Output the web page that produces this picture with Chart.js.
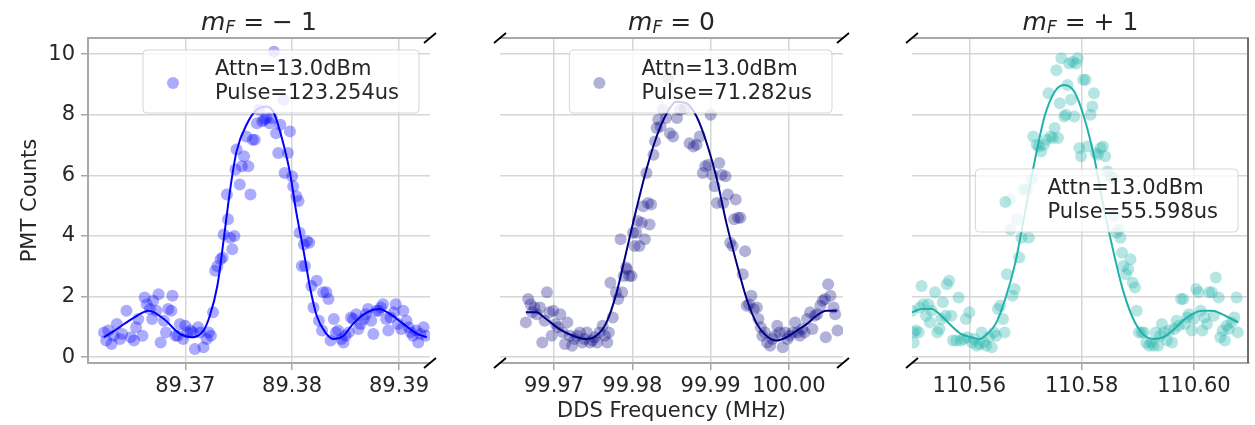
<!DOCTYPE html>
<html>
<head>
<meta charset="utf-8">
<script src="https://cdn.jsdelivr.net/npm/chart.js@4.4.0/dist/chart.umd.min.js"></script>
<style>
    html, body { margin: 0; padding: 0; background: #fff; }
    #wrap { position: relative; width: 1255px; height: 425px; overflow: hidden; }
    .panel { position: absolute; top: 0; height: 425px; }
</style>
</head>
<body>
<div id="wrap">
    <div class="panel" style="left:0;width:440px"><canvas id="chartMinus" width="440" height="425"></canvas></div>
    <div class="panel" style="left:440px;width:420px"><canvas id="chartZero" width="420" height="425"></canvas></div>
    <div class="panel" style="left:860px;width:395px"><canvas id="chartPlus" width="395" height="425"></canvas></div>
</div>
<script>
// ---- data ----
const yTicks = [0, 2, 4, 6, 8, 10];
const stateLabels = ['= \u2212 1', '= 0', '= + 1'];
const attnText = 'Attn=13.0dBm';
const pulseTexts = ['Pulse=123.254us', 'Pulse=71.282us', 'Pulse=55.598us'];

// m_F = -1
const xTicksMinus = ['89.37', '89.38', '89.39'];
const freqMinus = [89.3624, 89.3626, 89.3628, 89.3631, 89.3633, 89.3636, 89.3639, 89.3641, 89.3645, 89.3649,
    89.3652, 89.3654, 89.3656, 89.3660, 89.3662, 89.3664, 89.3667, 89.3669, 89.3670, 89.3673,
    89.3675, 89.3677, 89.3680, 89.3682, 89.3684, 89.3687, 89.3688, 89.3691, 89.3693, 89.3695,
    89.3698, 89.3700, 89.3702, 89.3705, 89.3707, 89.3709, 89.3712, 89.3714, 89.3717, 89.3720,
    89.3722, 89.3724, 89.3726, 89.3728, 89.3730, 89.3733, 89.3735, 89.3736, 89.3739, 89.3740,
    89.3742, 89.3744, 89.3746, 89.3747, 89.3748, 89.3751, 89.3753, 89.3755, 89.3757, 89.3759,
    89.3761, 89.3763, 89.3765, 89.3767, 89.3769, 89.3772, 89.3774, 89.3776, 89.3779, 89.3781,
    89.3783, 89.3785, 89.3787, 89.3789, 89.3792, 89.3793, 89.3796, 89.3798, 89.3800, 89.3801,
    89.3804, 89.3806, 89.3807, 89.3809, 89.3811, 89.3812, 89.3814, 89.3816, 89.3818, 89.3820,
    89.3823, 89.3825, 89.3828, 89.3829, 89.3832, 89.3834, 89.3836, 89.3839, 89.3841, 89.3843,
    89.3846, 89.3848, 89.3850, 89.3853, 89.3855, 89.3857, 89.3860, 89.3862, 89.3864, 89.3867,
    89.3869, 89.3871, 89.3874, 89.3876, 89.3879, 89.3881, 89.3883, 89.3885, 89.3888, 89.3890,
    89.3892, 89.3895, 89.3897, 89.3899, 89.3902, 89.3904, 89.3907, 89.3909, 89.3911, 89.3913,
    89.3916, 89.3918, 89.3920, 89.3923, 89.3925];
const countsMinus = [0.82, 0.55, 0.88, 0.44, 0.71, 1.10, 0.60, 0.77, 1.53, 0.66,
    0.55, 0.99, 1.26, 0.71, 1.97, 1.75, 1.59, 1.26, 1.86, 1.53,
    2.08, 0.49, 1.20, 0.82, 1.59, 1.53, 2.03, 0.71, 0.71, 1.10,
    0.60, 1.04, 0.82, 0.88, 0.82, 0.27, 0.99, 0.82, 0.33, 0.60,
    0.82, 0.71, 1.48, 2.85, 3.00, 3.23, 3.29, 4.05, 5.37, 4.55,
    3.94, 3.56, 4.00, 6.19, 6.85, 5.70, 6.30, 6.63, 7.28, 6.30,
    5.37, 7.17, 7.17, 7.72, 8.16, 7.78, 7.83, 7.89, 7.72, 7.89,
    10.08, 7.39, 6.74, 7.67, 8.49, 6.08, 6.74, 7.45, 5.97, 5.64,
    5.31, 5.15, 4.11, 3.01, 3.72, 3.01, 3.83, 3.78, 2.35, 1.64,
    2.52, 1.20, 0.88, 2.14, 2.14, 1.92, 0.55, 1.26, 0.82, 0.88,
    0.60, 0.49, 0.71, 0.82, 1.31, 1.26, 1.42, 0.93, 1.10, 1.26,
    1.42, 1.59, 1.20, 0.77, 1.53, 1.53, 1.64, 1.75, 1.26, 0.88,
    1.31, 1.48, 1.75, 1.10, 0.93, 1.53, 1.20, 0.99, 0.82, 0.71,
    0.88, 0.49, 0.77, 0.99, 0.71];
const fitFreqMinus = [89.3624, 89.3636, 89.3652, 89.3666, 89.3680, 89.3695, 89.3706, 89.3717, 89.3723, 89.3730,
    89.3736, 89.3742, 89.3748, 89.3758, 89.3767, 89.3776, 89.3783, 89.3790, 89.3798, 89.3804,
    89.3811, 89.3817, 89.3823, 89.3831, 89.3839, 89.3848, 89.3857, 89.3870, 89.3881, 89.3892,
    89.3904, 89.3917, 89.3926];
const fitCountsMinus = [0.66, 0.93, 1.31, 1.53, 1.26, 0.77, 0.66, 0.88, 1.37, 2.35,
    3.89, 5.53, 6.79, 7.72, 8.16, 8.27, 8.05, 7.28, 6.08, 4.76,
    3.45, 2.25, 1.37, 0.82, 0.60, 0.71, 1.10, 1.48, 1.59, 1.42,
    1.10, 0.77, 0.66];

// m_F = 0
const xTicksZero = ['99.97', '99.98', '99.99', '100.00'];
const freqZero = [99.9664, 99.9667, 99.9670, 99.9672, 99.9675, 99.9678, 99.9682, 99.9685, 99.9688, 99.9691,
    99.9694, 99.9697, 99.9699, 99.9702, 99.9705, 99.9708, 99.9711, 99.9714, 99.9717, 99.9720,
    99.9723, 99.9726, 99.9729, 99.9733, 99.9736, 99.9739, 99.9742, 99.9746, 99.9749, 99.9752,
    99.9755, 99.9758, 99.9762, 99.9765, 99.9768, 99.9770, 99.9772, 99.9775, 99.9779, 99.9782,
    99.9785, 99.9787, 99.9789, 99.9792, 99.9793, 99.9796, 99.9799, 99.9801, 99.9803, 99.9805,
    99.9807, 99.9809, 99.9812, 99.9814, 99.9816, 99.9818, 99.9820, 99.9822, 99.9824, 99.9827,
    99.9829, 99.9831, 99.9833, 99.9836, 99.9839, 99.9843, 99.9846, 99.9848, 99.9852, 99.9857,
    99.9861, 99.9867, 99.9873, 99.9878, 99.9882, 99.9886, 99.9890, 99.9893, 99.9897, 99.9900,
    99.9902, 99.9905, 99.9908, 99.9911, 99.9914, 99.9916, 99.9919, 99.9922, 99.9925, 99.9928,
    99.9930, 99.9932, 99.9935, 99.9938, 99.9941, 99.9944, 99.9946, 99.9949, 99.9952, 99.9955,
    99.9959, 99.9961, 99.9964, 99.9966, 99.9969, 99.9972, 99.9976, 99.9979, 99.9982, 99.9985,
    99.9988, 99.9992, 99.9995, 99.9998, 100.0001, 100.0005, 100.0008, 100.0011, 100.0014, 100.0017,
    100.0020, 100.0023, 100.0027, 100.0030, 100.0033, 100.0036, 100.0040, 100.0043, 100.0046, 100.0047,
    100.0050, 100.0053, 100.0057, 100.0059, 100.0062];
const countsZero = [1.15, 1.92, 1.75, 1.48, 1.64, 1.42, 1.64, 0.49, 1.20, 2.14,
    1.48, 0.71, 1.53, 1.10, 0.99, 1.42, 0.82, 0.44, 1.15, 0.71,
    0.38, 0.60, 0.71, 0.82, 0.49, 0.60, 0.82, 0.49, 0.55, 0.66,
    0.49, 0.82, 1.04, 0.71, 0.49, 0.82, 2.46, 1.31, 2.14, 1.92,
    3.89, 2.14, 2.68, 2.96, 2.90, 2.68, 2.68, 4.11, 3.67, 4.11,
    4.49, 3.67, 4.44, 4.98, 3.89, 6.08, 5.09, 4.38, 5.04, 6.68,
    7.12, 7.56, 7.83, 7.61, 8.16, 7.89, 9.20, 7.39, 7.28, 7.89,
    8.16, 8.21, 7.06, 6.95, 7.01, 7.28, 6.08, 6.30, 6.35, 8.00,
    6.02, 5.64, 5.09, 6.41, 6.02, 5.09, 5.97, 5.37, 3.78, 3.67,
    4.55, 5.20, 4.60, 4.60, 2.74, 3.50, 1.70, 1.75, 2.03, 1.59,
    1.64, 1.26, 0.99, 0.71, 0.82, 0.49, 0.38, 0.60, 0.71, 1.04,
    0.82, 0.33, 0.82, 0.60, 0.71, 0.82, 1.15, 0.82, 0.71, 0.93,
    0.82, 1.26, 1.48, 0.93, 1.37, 1.42, 1.70, 1.86, 1.92, 0.66,
    2.41, 2.03, 1.64, 1.42, 0.88];
const fitFreqZero = [99.9664, 99.9677, 99.9690, 99.9707, 99.9724, 99.9741, 99.9754, 99.9767, 99.9780, 99.9792,
    99.9805, 99.9818, 99.9831, 99.9844, 99.9856, 99.9869, 99.9882, 99.9895, 99.9908, 99.9920,
    99.9933, 99.9946, 99.9959, 99.9971, 99.9984, 99.9997, 100.0010, 100.0023, 100.0035, 100.0048,
    100.0061];
const fitCountsZero = [1.48, 1.48, 1.26, 0.93, 0.71, 0.60, 0.71, 1.15, 2.14, 3.45,
    4.87, 6.19, 7.28, 8.05, 8.43, 8.38, 7.94, 7.06, 5.86, 4.44,
    3.12, 1.92, 1.10, 0.71, 0.55, 0.66, 0.88, 1.10, 1.37, 1.53,
    1.53];

// m_F = +1
const xTicksPlus = ['110.56', '110.58', '110.60'];
const freqPlus = [110.5498, 110.5501, 110.5501, 110.5505, 110.5510, 110.5512, 110.5515, 110.5518, 110.5523, 110.5527,
    110.5530, 110.5533, 110.5539, 110.5543, 110.5547, 110.5550, 110.5553, 110.5558, 110.5560, 110.5564,
    110.5568, 110.5571, 110.5577, 110.5581, 110.5585, 110.5590, 110.5594, 110.5597, 110.5600, 110.5605,
    110.5609, 110.5613, 110.5618, 110.5622, 110.5626, 110.5630, 110.5635, 110.5640, 110.5644, 110.5648,
    110.5651, 110.5655, 110.5660, 110.5663, 110.5667, 110.5673, 110.5673, 110.5677, 110.5681, 110.5685,
    110.5689, 110.5693, 110.5696, 110.5702, 110.5706, 110.5711, 110.5714, 110.5720, 110.5724, 110.5728,
    110.5733, 110.5737, 110.5741, 110.5745, 110.5749, 110.5752, 110.5755, 110.5758, 110.5761, 110.5764,
    110.5769, 110.5772, 110.5775, 110.5778, 110.5781, 110.5784, 110.5787, 110.5790, 110.5793, 110.5796,
    110.5799, 110.5803, 110.5807, 110.5810, 110.5816, 110.5819, 110.5822, 110.5825, 110.5829, 110.5834,
    110.5838, 110.5842, 110.5846, 110.5851, 110.5856, 110.5858, 110.5862, 110.5866, 110.5869, 110.5872,
    110.5874, 110.5879, 110.5883, 110.5887, 110.5891, 110.5895, 110.5898, 110.5902, 110.5907, 110.5911,
    110.5915, 110.5920, 110.5924, 110.5928, 110.5932, 110.5936, 110.5940, 110.5943, 110.5947, 110.5952,
    110.5956, 110.5961, 110.5965, 110.5969, 110.5973, 110.5977, 110.5981, 110.5984, 110.5988, 110.5991,
    110.5996, 110.6000, 110.6004, 110.6008, 110.6012, 110.6015, 110.6019, 110.6023, 110.6027, 110.6032,
    110.6035, 110.6039, 110.6044, 110.6047, 110.6051, 110.6055, 110.6058, 110.6062, 110.6067, 110.6072,
    110.6076, 110.6078];
const countsPlus = [1.53, 0.82, 0.49, 0.88, 0.82, 1.64, 2.35, 1.75, 1.37, 1.75,
    1.15, 1.53, 2.14, 0.82, 0.93, 1.26, 1.81, 1.37, 2.41, 2.52,
    1.37, 0.55, 0.55, 1.97, 0.55, 0.60, 1.26, 0.66, 1.48, 0.49,
    0.60, 0.38, 0.44, 0.82, 0.49, 0.38, 0.66, 0.33, 0.82, 0.71,
    1.59, 1.70, 1.26, 0.82, 2.74, 5.20, 4.22, 2.03, 2.25, 4.55,
    3.29, 3.94, 5.53, 5.53, 3.94, 5.86, 7.28, 7.01, 6.95, 6.79,
    7.01, 7.17, 8.71, 7.28, 7.23, 7.56, 9.47, 7.23, 8.38, 9.86,
    7.94, 8.00, 8.98, 9.69, 8.49, 9.75, 7.94, 9.69, 9.86, 6.90,
    6.63, 9.15, 9.15, 6.95, 8.00, 8.27, 8.71, 6.74, 6.68, 6.90,
    6.95, 6.63, 6.13, 5.97, 5.91, 4.66, 4.11, 4.22, 3.94, 3.45,
    3.01, 2.74, 2.90, 3.23, 2.46, 2.30, 1.53, 0.82, 0.82, 0.82,
    0.49, 0.38, 0.49, 0.38, 0.82, 0.38, 0.71, 1.10, 0.82, 0.55,
    0.88, 0.49, 0.93, 1.20, 1.04, 1.92, 1.92, 1.10, 1.31, 1.42,
    0.88, 1.26, 2.25, 2.14, 1.53, 0.88, 1.31, 1.10, 2.14, 2.14,
    1.37, 2.63, 1.97, 0.66, 0.88, 0.55, 1.04, 0.93, 1.15, 1.31,
    1.97, 0.82];
const fitFreqPlus = [110.5498, 110.5515, 110.5533, 110.5550, 110.5568, 110.5585, 110.5603, 110.5618, 110.5632, 110.5647,
    110.5664, 110.5682, 110.5699, 110.5717, 110.5734, 110.5752, 110.5769, 110.5787, 110.5804, 110.5822,
    110.5839, 110.5857, 110.5874, 110.5892, 110.5909, 110.5927, 110.5945, 110.5962, 110.5980, 110.5997,
    110.6015, 110.6032, 110.6050, 110.6067, 110.6079];
const fitCountsPlus = [1.48, 1.59, 1.59, 1.37, 1.04, 0.77, 0.66, 0.60, 0.77, 1.10,
    1.92, 3.12, 4.76, 6.52, 7.94, 8.76, 8.98, 8.76, 7.94, 6.63,
    4.98, 3.45, 2.19, 1.26, 0.77, 0.60, 0.66, 0.88, 1.20, 1.42,
    1.53, 1.53, 1.42, 1.26, 1.15];

Chart.defaults.font.family = '"DejaVu Sans", sans-serif';
Chart.defaults.font.size = 21;
Chart.defaults.color = '#262626';

const gridColor = '#d6d6d6';
const spineColor = '#a8a8a8';

// top spine, optional right spine, and the little "/" break marks
const framePlugin = {
    id: 'frame',
    afterDatasetsDraw(chart, args, opts) {
        const { ctx, chartArea: a } = chart;
        ctx.save();
        ctx.strokeStyle = spineColor;
        ctx.lineWidth = 2;
        ctx.beginPath();
        ctx.moveTo(a.left, a.top);
        ctx.lineTo(a.right, a.top);
        ctx.stroke();
        if (opts.rightSpine) {
            ctx.strokeStyle = '#6e6e6e';
            ctx.beginPath();
            ctx.moveTo(a.right - 1, a.top);
            ctx.lineTo(a.right - 1, a.bottom);
            ctx.stroke();
        }
        ctx.strokeStyle = '#000';
        ctx.lineWidth = 1.8;
        opts.breaks.forEach(side => {
            const x = side === 'left' ? a.left : a.right;
            [a.top, a.bottom].forEach(y => {
                ctx.beginPath();
                ctx.moveTo(x - 6, y + 5);
                ctx.lineTo(x + 6, y - 5);
                ctx.stroke();
            });
        });
        ctx.restore();
    }
};

// matplotlib-like legend box with one marker and two text lines
const noteLegend = {
    id: 'note',
    afterDatasetsDraw(chart, args, o) {
        const { ctx, chartArea: a } = chart;
        ctx.save();
        ctx.font = '21px "DejaVu Sans"';
        const w = Math.max(...o.lines.map(t => ctx.measureText(t).width));
        const bw = 72 + w + 20, bh = 63;
        const x = a.right - 11 - bw;
        const y = o.loc === 'upper' ? a.top + 12 : (a.top + a.bottom) / 2 - bh / 2;
        ctx.beginPath();
        ctx.roundRect(x, y, bw, bh, 4);
        ctx.fillStyle = 'rgba(255,255,255,0.8)';
        ctx.fill();
        ctx.strokeStyle = 'rgba(204,204,204,0.8)';
        ctx.lineWidth = 1;
        ctx.stroke();
        ctx.beginPath();
        ctx.arc(x + 30, y + 33, 6, 0, Math.PI * 2);
        ctx.fillStyle = o.marker;
        ctx.fill();
        ctx.fillStyle = '#262626';
        ctx.textBaseline = 'middle';
        ctx.textAlign = 'left';
        o.lines.forEach((t, i) => ctx.fillText(t, x + 72, y + 20 + i * 24));
        ctx.restore();
    }
};

// title "m_F = ..." with italic m and subscript F
const mathTitle = {
    id: 'mtitle',
    afterDraw(chart, args, o) {
        const { ctx, chartArea: a } = chart;
        const parts = [
            { t: 'm', f: 'italic 25px "DejaVu Sans"', dy: 0 },
            { t: 'F', f: 'italic 17px "DejaVu Sans"', dy: 3 },
            { t: ' ' + o.text, f: '25px "DejaVu Sans"', dy: 0 }
        ];
        ctx.save();
        let total = 0;
        parts.forEach(p => { ctx.font = p.f; p.w = ctx.measureText(p.t).width; total += p.w; });
        let x = (a.left + a.right) / 2 - total / 2;
        ctx.fillStyle = '#262626';
        ctx.textBaseline = 'alphabetic';
        ctx.textAlign = 'left';
        parts.forEach(p => { ctx.font = p.f; ctx.fillText(p.t, x, 30 + p.dy); x += p.w; });
        ctx.restore();
    }
};

function buildPanel(id, p) {
    const pts = p.freq.map((x, i) => ({ x, y: p.counts[i] }));
    const fit = p.fitFreq.map((x, i) => ({ x, y: p.fitCounts[i] }));
    new Chart(document.getElementById(id), {
        type: 'scatter',
        data: {
            datasets: [
                {
                    data: fit, showLine: true, borderColor: p.color, borderWidth: 2,
                    pointRadius: 0, cubicInterpolationMode: 'monotone', fill: false, order: 0
                },
                {
                    data: pts, backgroundColor: p.fill, borderWidth: 0, pointBorderWidth: 0,
                    pointRadius: 6, order: 1
                }
            ]
        },
        options: {
            responsive: false,
            animation: false,
            events: [],
            layout: { padding: p.pad },
            plugins: {
                legend: { display: false },
                tooltip: { enabled: false },
                frame: { breaks: p.breaks, rightSpine: p.rightSpine },
                note: { lines: [attnText, p.pulse], loc: p.legendLoc, marker: p.fill },
                mtitle: { text: p.label }
            },
            scales: {
                x: {
                    type: 'linear', min: p.xMin, max: p.xMax, bounds: 'data',
                    afterBuildTicks: s => { s.ticks = p.xTicks.map(v => ({ value: Number(v) })); },
                    afterFit: s => { s.height = 62; },
                    ticks: { autoSkip: false, maxRotation: 0, padding: 4, callback: (v, i) => p.xTicks[i] },
                    grid: { color: gridColor, lineWidth: 1.5, tickLength: 7, tickColor: spineColor, tickWidth: 1.5 },
                    border: { color: spineColor, width: 2 },
                    title: {
                        display: !!p.xTitle, text: p.xTitle || '',
                        font: { size: 21 }, padding: { top: 0, bottom: 1 }
                    }
                },
                y: {
                    type: 'linear', min: -0.19, max: 10.53, bounds: 'data',
                    afterBuildTicks: s => { s.ticks = yTicks.map(v => ({ value: v })); },
                    afterFit: s => { s.width = p.showY ? 88 : 0; },
                    ticks: { display: p.showY, padding: 6 },
                    grid: { color: gridColor, lineWidth: 1.5, drawTicks: p.showY, tickLength: 7, tickColor: spineColor, tickWidth: 1.5 },
                    border: { display: p.showY, color: spineColor, width: 2 },
                    title: {
                        display: p.showY, text: 'PMT Counts',
                        font: { size: 21 }, padding: { top: 18, bottom: 0 }
                    }
                }
            }
        },
        plugins: [framePlugin, noteLegend, mathTitle]
    });
}

buildPanel('chartMinus', {
    freq: freqMinus, counts: countsMinus, fitFreq: fitFreqMinus, fitCounts: fitCountsMinus,
    xTicks: xTicksMinus, xMin: 89.3609, xMax: 89.3929,
    color: '#0000ff', fill: 'rgba(0,0,255,0.33)',
    pad: { top: 38, right: 10, bottom: 0, left: 0 },
    breaks: ['right'], rightSpine: false, showY: true,
    label: stateLabels[0], pulse: pulseTexts[0], legendLoc: 'upper'
});

buildPanel('chartZero', {
    freq: freqZero, counts: countsZero, fitFreq: fitFreqZero, fitCounts: fitCountsZero,
    xTicks: xTicksZero, xMin: 99.9631, xMax: 100.0069,
    color: '#000080', fill: 'rgba(0,0,128,0.3)',
    pad: { top: 38, right: 17, bottom: 0, left: 60 },
    breaks: ['left', 'right'], rightSpine: false, showY: false,
    xTitle: 'DDS Frequency (MHz)',
    label: stateLabels[1], pulse: pulseTexts[1], legendLoc: 'upper'
});

buildPanel('chartPlus', {
    freq: freqPlus, counts: countsPlus, fitFreq: fitFreqPlus, fitCounts: fitCountsPlus,
    xTicks: xTicksPlus, xMin: 110.5498, xMax: 110.6098,
    color: '#20b2aa', fill: 'rgba(32,178,170,0.33)',
    pad: { top: 38, right: 1, bottom: 0, left: 52 },
    breaks: ['left'], rightSpine: true, showY: false,
    label: stateLabels[2], pulse: pulseTexts[2], legendLoc: 'center'
});
</script>
</body>
</html>
